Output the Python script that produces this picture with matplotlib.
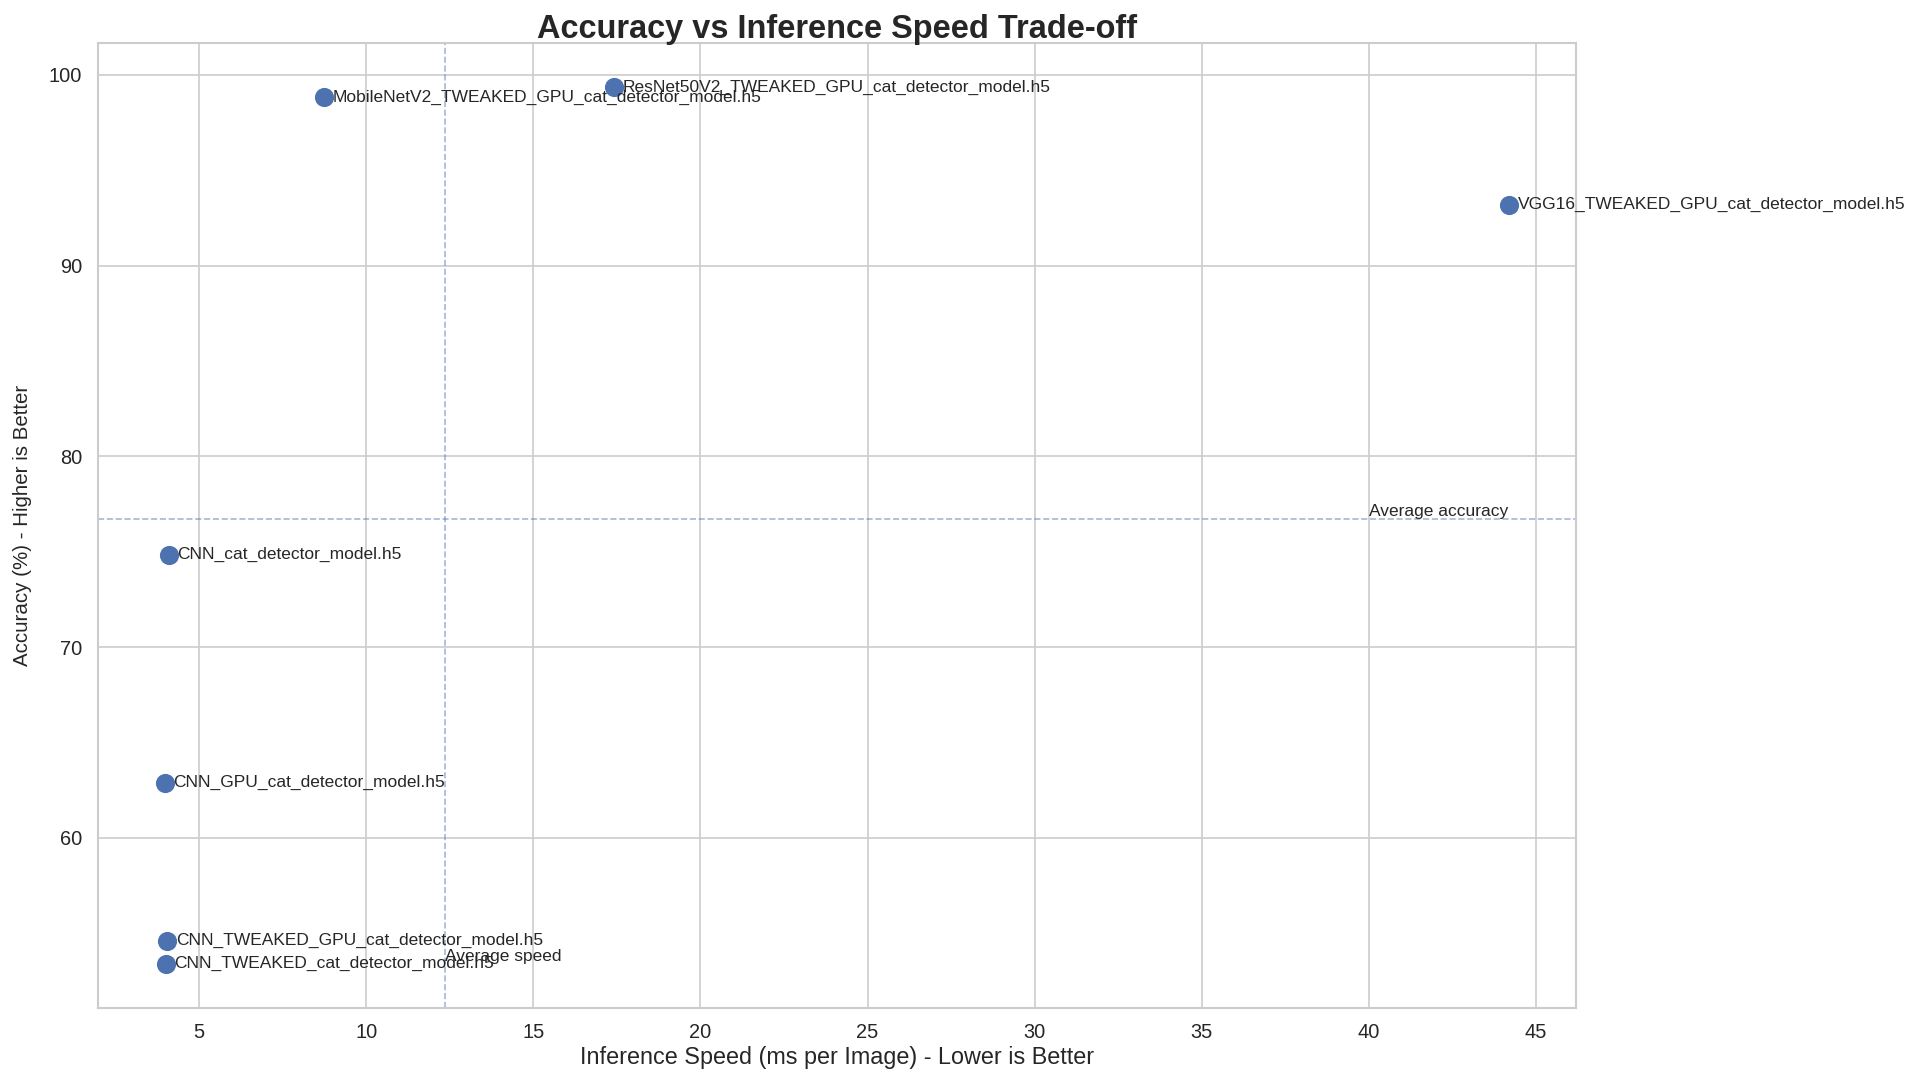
import matplotlib
matplotlib.use('Agg')
import matplotlib.pyplot as plt
import seaborn as sns
import numpy as np

# model results
models = [
    'MobileNetV2_TWEAKED_GPU_cat_detector_model.h5',
    'ResNet50V2_TWEAKED_GPU_cat_detector_model.h5',
    'VGG16_TWEAKED_GPU_cat_detector_model.h5',
    'CNN_cat_detector_model.h5',
    'CNN_GPU_cat_detector_model.h5',
    'CNN_TWEAKED_GPU_cat_detector_model.h5',
    'CNN_TWEAKED_cat_detector_model.h5',
]
speed_ms = [8.73, 17.41, 44.2, 4.09, 3.98, 4.05, 4.01]
accuracy = [98.84, 99.36, 93.19, 74.83, 62.89, 54.61, 53.39]

sns.set_theme(style='whitegrid')
plt.rcParams['font.family'] = ['Liberation Sans', 'DejaVu Sans']

fig = plt.figure(figsize=(16, 9), dpi=120)
ax = fig.add_axes([0.051, 0.067, 0.770, 0.893])

ax.scatter(speed_ms, accuracy, s=110, color='#4C72B0', zorder=3)
for name, x, y in zip(models, speed_ms, accuracy):
    ax.annotate(name, (x, y), xytext=(5, 0), textcoords='offset points',
                va='center', fontsize=10.4, annotation_clip=False)

avg_acc = np.mean(accuracy)
avg_speed = np.mean(speed_ms)
ax.axhline(avg_acc, color='#4C72B0', linestyle='--', linewidth=1, alpha=0.5)
ax.axvline(avg_speed, color='#4C72B0', linestyle='--', linewidth=1, alpha=0.5)
ax.text(40, avg_acc, 'Average accuracy', fontsize=10.4, va='bottom')
ax.text(avg_speed, min(accuracy), 'Average speed', fontsize=10.4, va='bottom')

ax.set_title('Accuracy vs Inference Speed Trade-off', fontsize=19.5, fontweight='bold', pad=3)
ax.set_xlabel('Inference Speed (ms per Image) - Lower is Better', fontsize=14, labelpad=2)
ax.set_ylabel('Accuracy (%) - Higher is Better', fontsize=12.3, labelpad=10)
ax.tick_params(labelsize=12)

fig.savefig('out.png', dpi=120)
